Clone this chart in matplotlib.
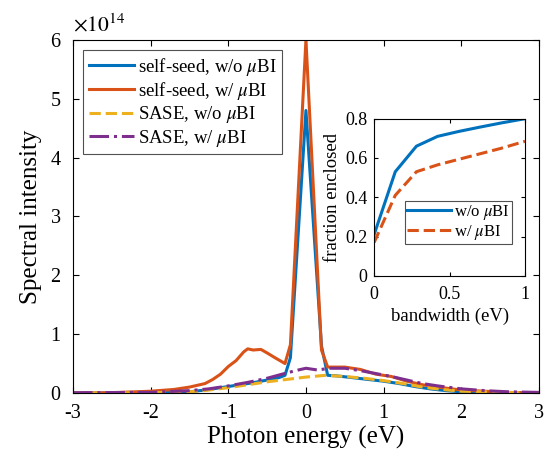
import matplotlib
matplotlib.use('Agg')
import matplotlib.pyplot as plt

plt.rcParams['font.family'] = ['Liberation Serif', 'DejaVu Serif']
plt.rcParams['mathtext.fontset'] = 'stix'
plt.rcParams['axes.unicode_minus'] = False

# spectra, in units of 1e14
e_ss_wo = [-3, -2.5, -2, -1.7, -1.5, -1.3, -1.1, -0.9, -0.7, -0.5, -0.35, -0.27, -0.2,
           0, 0.2, 0.28, 0.4, 0.6, 0.8, 1.0, 1.2, 1.4, 1.6, 1.8, 2.0, 2.3, 2.6, 3]
v_ss_wo = [0, 0, 0.005, 0.01, 0.02, 0.05, 0.09, 0.13, 0.17, 0.22, 0.26, 0.3, 0.6,
           4.8, 0.8, 0.3, 0.29, 0.26, 0.23, 0.2, 0.16, 0.11, 0.07, 0.04, 0.02, 0.01, 0.005, 0]

e_ss_w = [-3, -2.5, -2, -1.7, -1.5, -1.3, -1.2, -1.1, -1.0, -0.9, -0.8, -0.75, -0.68,
          -0.58, -0.5, -0.4, -0.27, -0.2, 0, 0.2, 0.28, 0.4, 0.5, 0.6, 0.7, 0.8, 0.9,
          1.0, 1.1, 1.2, 1.3, 1.5, 1.7, 2.0, 2.3, 2.6, 3]
v_ss_w = [0, 0.005, 0.03, 0.06, 0.1, 0.16, 0.23, 0.32, 0.45, 0.55, 0.7, 0.75, 0.73,
          0.74, 0.68, 0.6, 0.5, 0.82, 6.0, 0.73, 0.44, 0.44, 0.44, 0.42, 0.4, 0.36, 0.32,
          0.3, 0.28, 0.24, 0.2, 0.14, 0.1, 0.05, 0.03, 0.01, 0]

e_sase_wo = [-3, -2, -1.5, -1.25, -1, -0.75, -0.5, -0.25, 0, 0.25, 0.5, 0.75, 1.0,
             1.25, 1.5, 1.75, 2, 2.5, 3]
v_sase_wo = [0, 0.003, 0.02, 0.05, 0.09, 0.14, 0.19, 0.23, 0.27, 0.3, 0.28, 0.25, 0.21,
             0.16, 0.1, 0.06, 0.03, 0.01, 0]

e_sase_w = [-3, -2, -1.5, -1.25, -1, -0.75, -0.5, -0.25, -0.1, 0, 0.15, 0.3, 0.5, 0.7,
            0.9, 1.1, 1.3, 1.5, 1.7, 2.0, 2.3, 2.6, 3]
v_sase_w = [0.005, 0.01, 0.04, 0.07, 0.12, 0.18, 0.25, 0.34, 0.39, 0.42, 0.39, 0.42,
            0.42, 0.38, 0.33, 0.28, 0.22, 0.16, 0.12, 0.07, 0.04, 0.02, 0.01]

# inset: fraction enclosed vs bandwidth
bw = [0, 0.14, 0.28, 0.42, 0.56, 0.7, 0.84, 1.0]
frac_wo = [0.21, 0.53, 0.66, 0.71, 0.735, 0.757, 0.778, 0.8]
frac_w = [0.17, 0.41, 0.53, 0.565, 0.593, 0.621, 0.649, 0.685]

BLUE = '#0072BD'
ORANGE = '#D95319'
YELLOW = '#EDB120'
PURPLE = '#7E2F8E'

fig = plt.figure(figsize=(5.51, 4.53), dpi=100)
ax = fig.add_axes([0.1325, 0.1325, 0.8455, 0.7795])

ax.plot(e_ss_wo, v_ss_wo, color=BLUE, lw=2.2, label=r'self-seed, w/o $\mu$BI')
ax.plot(e_ss_w, v_ss_w, color=ORANGE, lw=2.2, label=r'self-seed, w/ $\mu$BI')
ax.plot(e_sase_wo, v_sase_wo, color=YELLOW, lw=2.2, ls='--', label=r'SASE, w/o $\mu$BI')
ax.plot(e_sase_w, v_sase_w, color=PURPLE, lw=2.2, ls='-.', label=r'SASE, w/ $\mu$BI')

ax.set_xlim(-3, 3)
ax.set_ylim(0, 6)
ax.set_xticks(range(-3, 4))
ax.set_yticks(range(0, 7))
ax.tick_params(direction='in', top=True, right=True, labelsize=14.5, length=4)
ax.tick_params(axis='y', pad=9)
ax.tick_params(axis='x', pad=8)
ax.set_xlabel('Photon energy (eV)', fontsize=18, labelpad=2)
ax.set_ylabel('Spectral intensity', fontsize=18, labelpad=6)
ax.text(0, 1.01, r'$\times10^{14}$', transform=ax.transAxes, fontsize=15.5,
        ha='left', va='bottom')
leg = ax.legend(loc='upper left', fontsize=13.5, frameon=True, fancybox=False,
                edgecolor='#262626', borderpad=0.3, labelspacing=0.12,
                handlelength=2.4, handletextpad=0.2, borderaxespad=0.55)
leg.get_frame().set_linewidth(0.8)

ins = fig.add_axes([0.679, 0.391, 0.274, 0.347])
ins.plot(bw, frac_wo, color=BLUE, lw=2.2, label=r'w/o $\mu$BI')
ins.plot(bw, frac_w, color=ORANGE, lw=2.2, ls='--', label=r'w/ $\mu$BI')
ins.set_xlim(0, 1)
ins.set_ylim(0, 0.8)
ins.set_xticks([0, 0.5, 1])
ins.set_xticklabels(['0', '0.5', '1'])
ins.set_yticks([0, 0.2, 0.4, 0.6, 0.8])
ins.set_yticklabels(['0', '0.2', '0.4', '0.6', '0.8'])
ins.tick_params(direction='in', top=True, right=True, labelsize=13, length=3)
ins.tick_params(axis='y', pad=5)
ins.tick_params(axis='x', pad=7)
ins.set_xlabel('bandwidth (eV)', fontsize=13.5, labelpad=4)
ins.set_ylabel('fraction enclosed', fontsize=13.5, labelpad=3)
leg2 = ins.legend(loc='lower right', fontsize=12, frameon=True, fancybox=False,
                  edgecolor='#262626', borderpad=0.15, labelspacing=0.05,
                  handlelength=2.6, handletextpad=0.2, borderaxespad=0,
                  bbox_to_anchor=(0.915, 0.2))
leg2.get_frame().set_linewidth(0.8)

fig.savefig('out.png', dpi=100)
